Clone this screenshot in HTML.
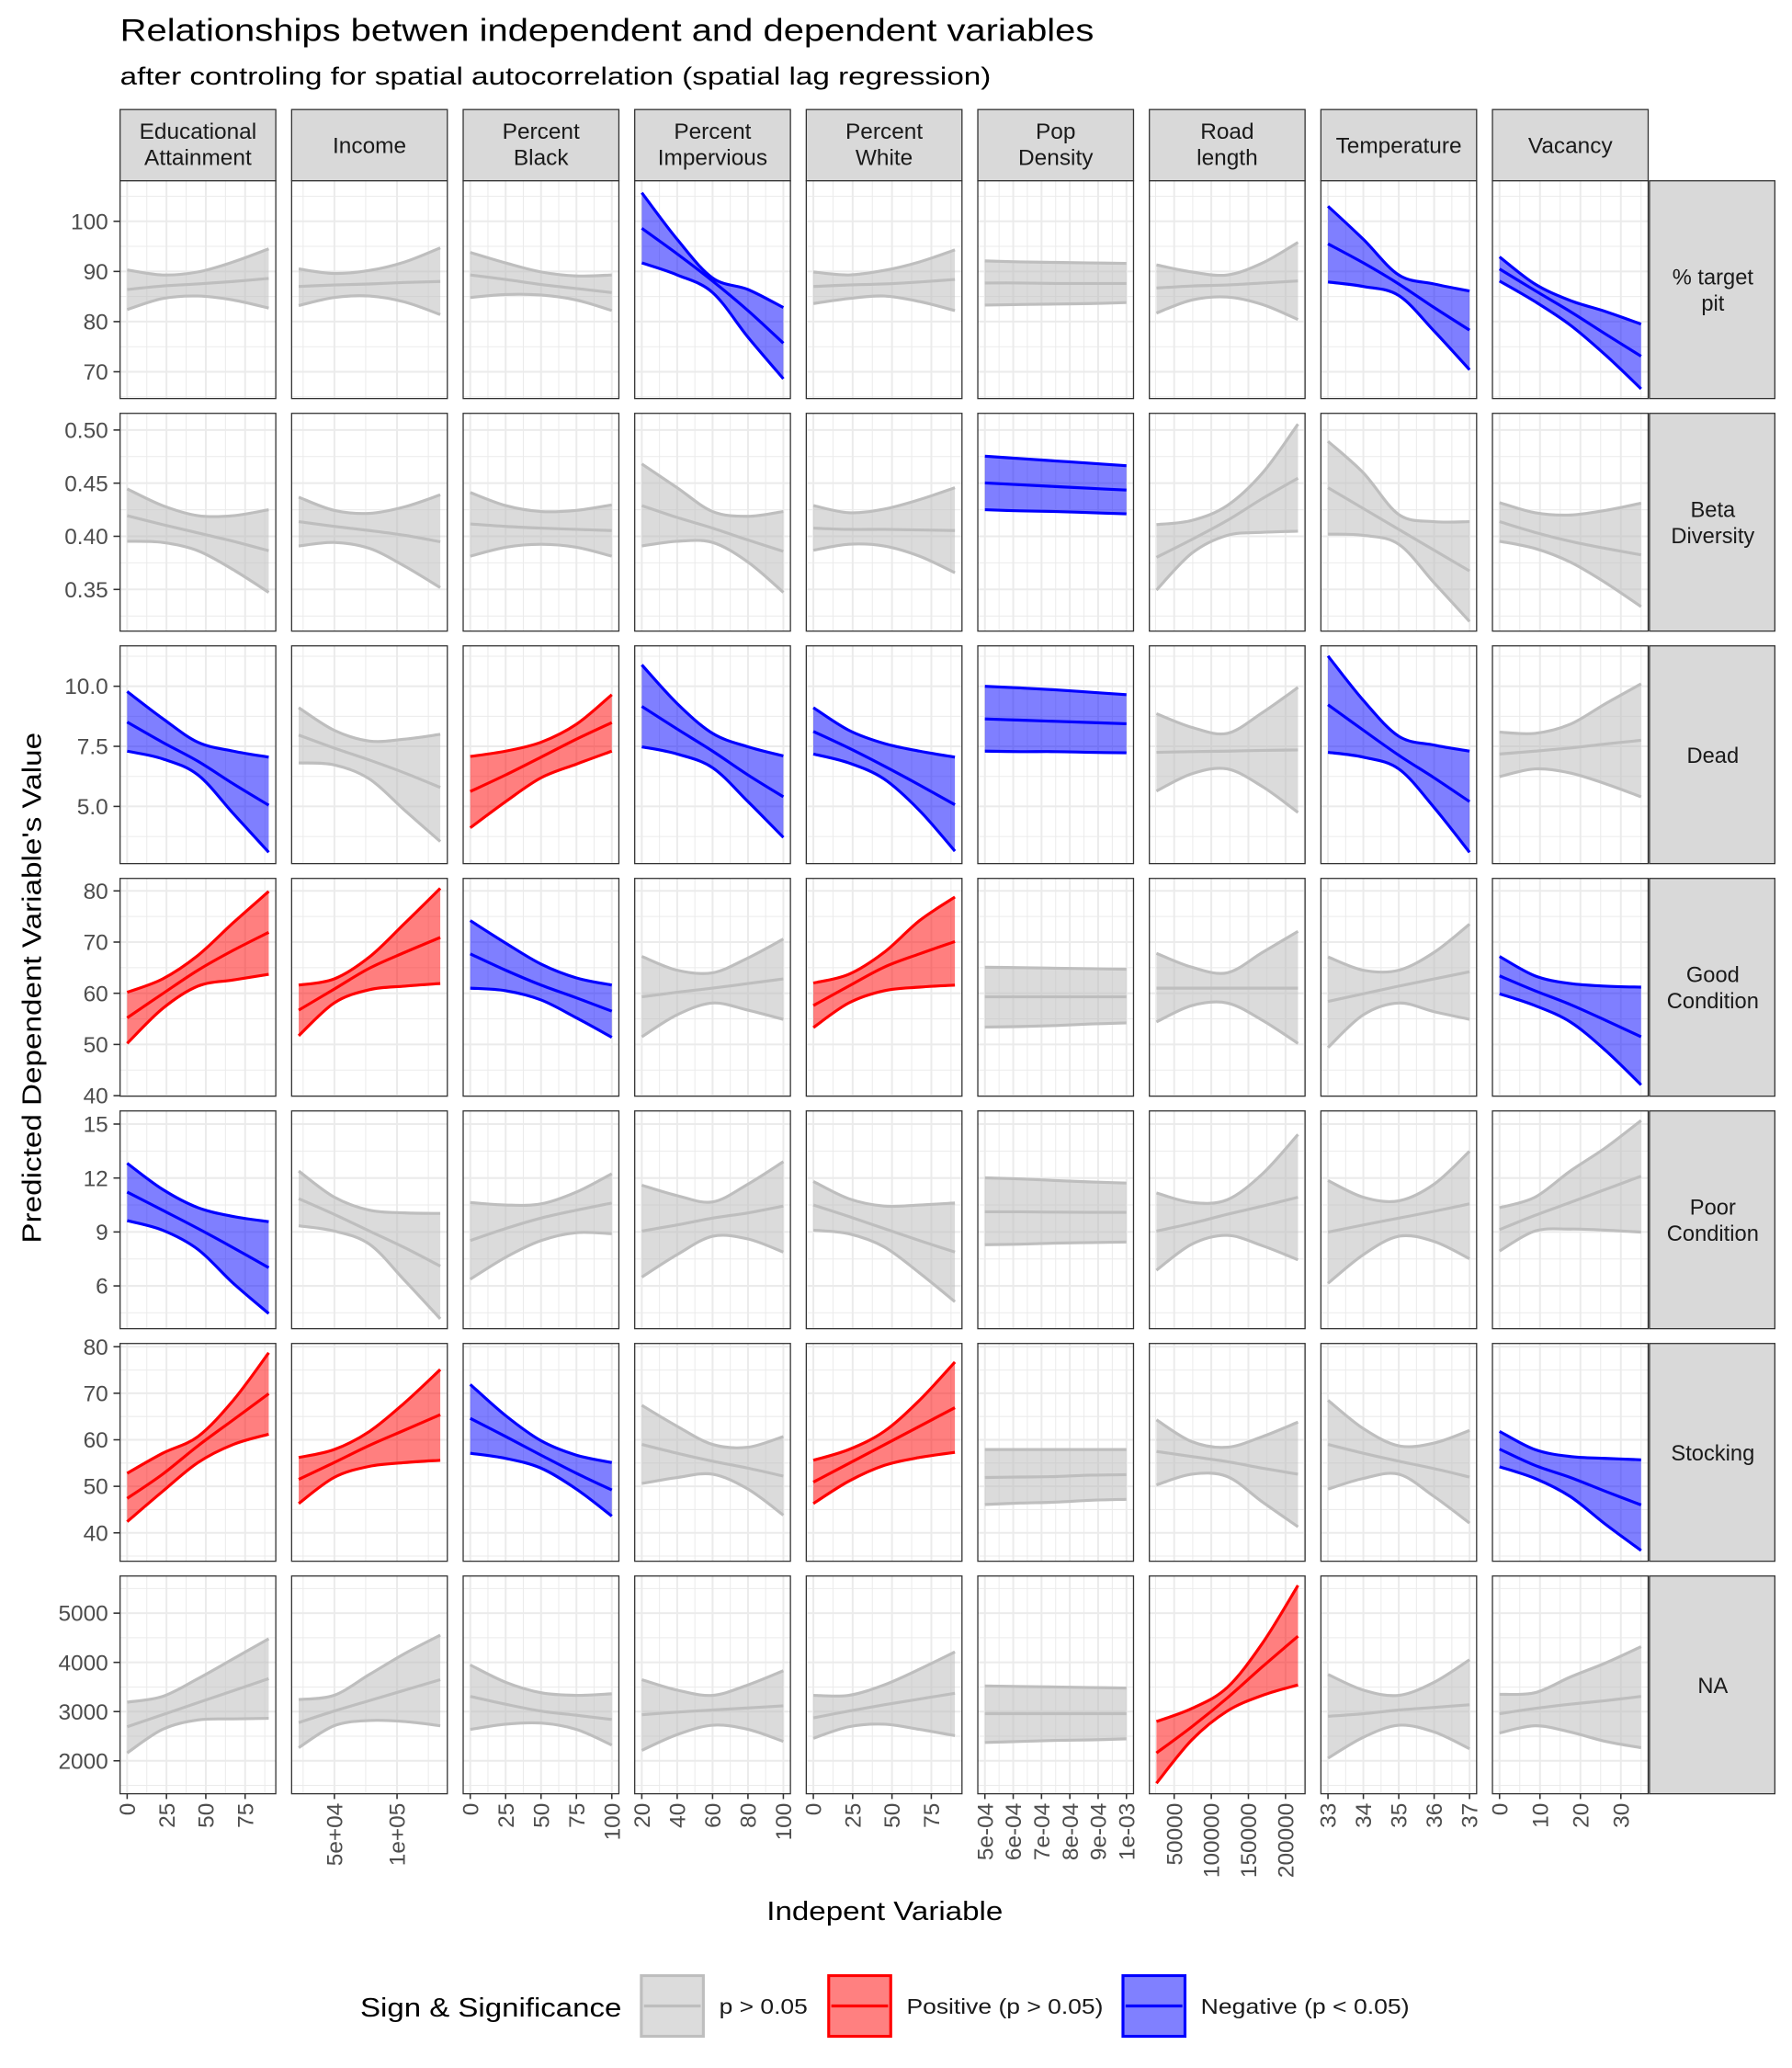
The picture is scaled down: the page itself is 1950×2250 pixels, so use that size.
<!DOCTYPE html>
<html><head><meta charset="utf-8"><title>Relationships chart</title>
<style>
html,body{margin:0;padding:0;background:#fff;}
svg{display:block;font-family:"Liberation Sans",Arial,sans-serif;}
</style></head>
<body>
<svg id="chart" width="1950" height="2250" viewBox="0 0 1358 1567" preserveAspectRatio="none" xmlns="http://www.w3.org/2000/svg">
<rect x="0" y="0" width="1358" height="1567" fill="#fff"/>
<text x="91" y="31" font-size="24" textLength="738" lengthAdjust="spacingAndGlyphs" fill="#000">Relationships betwen independent and dependent variables</text>
<text x="91" y="64" font-size="19" textLength="660" lengthAdjust="spacingAndGlyphs" fill="#000">after controling for spatial autocorrelation (spatial lag regression)</text>
<text x="581" y="1455" font-size="20" textLength="179" lengthAdjust="spacingAndGlyphs" fill="#000">Indepent Variable</text>
<text transform="translate(31,942) rotate(-90)" font-size="20" textLength="387" lengthAdjust="spacingAndGlyphs" fill="#000">Predicted Dependent Variable's Value</text>
<g id="legend">
<text x="273" y="1528" font-size="20" textLength="198" lengthAdjust="spacingAndGlyphs" fill="#000">Sign &amp; Significance</text>
<g>
<rect x="486" y="1497" width="47" height="46" fill="#dcdcdc" stroke="#bebebe" stroke-width="2.2"/>
<line x1="488" y1="1520" x2="531" y2="1520" stroke="#bebebe" stroke-width="2.2"/>
<text x="545" y="1526" font-size="16" textLength="67" lengthAdjust="spacingAndGlyphs" fill="#1a1a1a">p &gt; 0.05</text></g>
<g>
<rect x="628" y="1497" width="47" height="46" fill="#ff8080" stroke="#ff0000" stroke-width="2.2"/>
<line x1="630" y1="1520" x2="673" y2="1520" stroke="#ff0000" stroke-width="2.2"/>
<text x="687" y="1526" font-size="16" textLength="149" lengthAdjust="spacingAndGlyphs" fill="#1a1a1a">Positive (p &gt; 0.05)</text></g>
<g>
<rect x="851" y="1497" width="47" height="46" fill="#8080ff" stroke="#0000ff" stroke-width="2.2"/>
<line x1="853" y1="1520" x2="896" y2="1520" stroke="#0000ff" stroke-width="2.2"/>
<text x="910" y="1526" font-size="16" textLength="158" lengthAdjust="spacingAndGlyphs" fill="#1a1a1a">Negative (p &lt; 0.05)</text></g>
</g>
</svg>
<script>
const colNames = [["Educational","Attainment"],["Income"],["Percent","Black"],["Percent","Impervious"],["Percent","White"],["Pop","Density"],["Road","length"],["Temperature"],["Vacancy"]];
const rowNames = [["% target","pit"],["Beta","Diversity"],["Dead"],["Good","Condition"],["Poor","Condition"],["Stocking"],["NA"]];
const xSamples = [
 [0,22.5,45,67.5,90],
 [21500,49750,78000,106250,134500],
 [0,25,50,75,100],
 [20,40,60,80,100],
 [0,22.5,45,67.5,90],
 [5e-4,6.25e-4,7.5e-4,8.75e-4,1e-3],
 [26100,73775,121450,169125,216800],
 [33,34,35,36,37],
 [0,8.75,17.5,26.25,35]
];
const xTicks = [[0,25,50,75],[50000,100000],[0,25,50,75,100],[20,40,60,80,100],[0,25,50,75],[5e-4,6e-4,7e-4,8e-4,9e-4,1e-3],[50000,100000,150000,200000],[33,34,35,36,37],[0,10,20,30]];
const xTickLabels = [["0","25","50","75"],["5e+04","1e+05"],["0","25","50","75","100"],["20","40","60","80","100"],["0","25","50","75"],["5e-04","6e-04","7e-04","8e-04","9e-04","1e-03"],["50000","100000","150000","200000"],["33","34","35","36","37"],["0","10","20","30"]];
const yLimits = [[64.66,108.07],[0.3108,0.5157],[2.62,11.68],[39.9,82.44],[3.62,15.73],[33.9,80.7],[1330,5755]];
const yTicks = [[70,80,90,100],[0.35,0.40,0.45,0.50],[5,7.5,10],[40,50,60,70,80],[6,9,12,15],[40,50,60,70,80],[2000,3000,4000,5000]];
const yTickLabels = [["70","80","90","100"],["0.35","0.40","0.45","0.50"],["5.0","7.5","10.0"],["40","50","60","70","80"],["6","9","12","15"],["40","50","60","70","80"],["2000","3000","4000","5000"]];
const signif = [
 ["g","g","g","b","g","g","g","b","b"],
 ["g","g","g","g","g","b","g","g","g"],
 ["b","g","r","b","b","b","g","b","g"],
 ["r","r","b","g","r","g","g","g","b"],
 ["b","g","g","g","g","g","g","g","g"],
 ["r","r","b","g","r","g","g","g","b"],
 ["g","g","g","g","g","g","r","g","g"]
];
const upper = [
 [[90.3,89.3,89.9,91.9,94.5],[90.5,89.6,90.2,91.9,94.7],[93.8,91.7,89.9,89.1,89.3],[105.7,96.4,88.7,86.4,82.8],[89.9,89.3,90.2,91.9,94.3],[92.1,91.9,91.8,91.7,91.6],[91.3,89.9,89.3,91.7,95.8],[103.0,96.4,89.3,87.5,86.1],[92.9,87.5,84.2,82.0,79.5]],
 [[0.4446,0.4289,0.4194,0.4194,0.4250],[0.4368,0.4244,0.4216,0.4278,0.4390],[0.4412,0.4289,0.4233,0.4244,0.4295],[0.4681,0.4457,0.4233,0.4188,0.4233],[0.4289,0.4222,0.4256,0.4345,0.4457],[0.4754,0.4731,0.4709,0.4687,0.4664],[0.4110,0.4149,0.4289,0.4597,0.5056],[0.4894,0.4597,0.4205,0.4138,0.4138],[0.4317,0.4222,0.4200,0.4244,0.4312]],
 [[9.78,8.66,7.67,7.30,7.05],[9.11,8.17,7.72,7.80,8.00],[7.08,7.30,7.67,8.42,9.65],[10.89,9.28,8.04,7.48,7.10],[9.11,8.17,7.62,7.30,7.05],[10.0,9.93,9.85,9.75,9.65],[8.86,8.29,8.04,8.91,9.95],[11.26,9.41,7.92,7.55,7.30],[8.09,8.04,8.42,9.28,10.10]],
 [[60.2,62.8,67.4,73.8,79.9],[61.6,62.8,67.1,73.7,80.5],[74.2,69.8,65.7,63.0,61.6],[67.2,64.5,64.0,66.9,70.6],[62.0,63.7,68.0,74.2,78.8],[65.1,65.0,64.9,64.8,64.7],[67.8,65.1,64.0,68.0,72.1],[67.1,64.5,64.5,68.0,73.5],[67.2,63.4,61.9,61.4,61.2]],
 [[12.82,11.37,10.35,9.86,9.57],[12.39,10.94,10.21,10.06,10.03],[10.64,10.50,10.56,11.22,12.24],[11.60,11.02,10.67,11.66,12.91],[11.81,10.85,10.44,10.50,10.61],[12.01,11.95,11.86,11.78,11.72],[11.17,10.64,10.79,12.24,14.42],[11.86,10.93,10.73,11.66,13.49],[10.35,10.93,12.39,13.69,15.20]],
 [[52.8,57.1,60.7,68.5,78.7],[56.2,57.9,61.8,68.0,75.1],[71.9,65.2,59.8,56.7,55.1],[67.4,62.9,59.0,58.4,60.7],[55.6,57.9,61.8,68.5,76.7],[57.9,57.9,57.9,57.9,57.9],[64.3,59.6,58.4,60.7,63.8],[68.5,62.4,58.7,59.3,62.0],[61.8,57.9,56.4,56.0,55.7]],
 [[3191,3308,3670,4074,4479],[3244,3330,3755,4181,4553],[3947,3596,3383,3330,3361],[3649,3436,3330,3542,3830],[3330,3330,3542,3862,4213],[3521,3510,3500,3489,3478],[2798,3063,3489,4394,5564],[3755,3436,3330,3596,4053],[3351,3383,3702,3989,4319]]
];
const mid = [
 [[86.4,87.1,87.5,88.0,88.6],[87.0,87.3,87.5,87.8,88.0],[89.3,88.4,87.4,86.6,85.8],[98.6,93.5,88.1,82.2,75.7],[87.0,87.3,87.5,87.9,88.4],[87.7,87.7,87.6,87.6,87.6],[86.7,87.1,87.3,87.7,88.1],[95.5,91.7,87.5,82.8,78.3],[90.5,86.2,82.0,77.5,73.1]],
 [[0.4194,0.4110,0.4032,0.3953,0.3864],[0.4138,0.4093,0.4054,0.4009,0.3948],[0.4116,0.4093,0.4077,0.4065,0.4054],[0.4289,0.4177,0.4077,0.3965,0.3858],[0.4077,0.4065,0.4065,0.4060,0.4054],[0.4502,0.4485,0.4468,0.4451,0.4435],[0.3802,0.3970,0.4149,0.4356,0.4547],[0.4457,0.4261,0.4065,0.3869,0.3674],[0.4138,0.4037,0.3953,0.3886,0.3825]],
 [[8.51,7.67,6.88,5.94,5.05],[7.97,7.43,6.93,6.39,5.79],[5.62,6.31,7.05,7.80,8.49],[9.16,8.22,7.30,6.31,5.40],[8.12,7.43,6.68,5.89,5.07],[8.64,8.59,8.54,8.49,8.44],[7.25,7.28,7.30,7.33,7.35],[9.23,8.17,7.13,6.19,5.20],[7.18,7.30,7.43,7.60,7.75]],
 [[55.2,59.9,64.5,68.4,71.9],[56.7,60.8,64.9,68.0,70.9],[67.7,64.5,61.6,59.1,56.5],[59.3,60.2,61.0,61.9,62.8],[57.6,61.4,65.1,67.7,70.1],[59.3,59.3,59.3,59.3,59.3],[61.0,61.0,61.0,61.0,61.0],[58.4,59.9,61.4,62.8,64.2],[63.4,60.5,57.8,54.7,51.5]],
 [[11.22,10.21,9.19,8.12,7.01],[10.85,9.98,9.05,8.12,7.10],[8.52,9.19,9.77,10.21,10.61],[9.05,9.39,9.77,10.06,10.44],[10.50,9.86,9.19,8.52,7.88],[10.12,10.12,10.10,10.09,10.09],[9.05,9.48,9.98,10.44,10.93],[8.99,9.39,9.77,10.15,10.56],[9.13,9.92,10.64,11.37,12.10]],
 [[47.4,52.6,58.7,64.3,69.9],[51.5,55.1,58.8,62.1,65.4],[64.6,60.7,56.7,52.8,49.2],[59.0,57.1,55.4,53.9,52.2],[50.9,54.9,58.9,62.9,66.9],[51.9,52.0,52.1,52.4,52.5],[57.5,56.4,55.3,53.9,52.6],[59.0,57.1,55.4,53.8,52.0],[58.0,54.5,51.9,48.9,46.0]],
 [[2691,2936,3181,3425,3670],[2776,3010,3223,3436,3649],[3308,3149,3010,2925,2840],[2936,2989,3032,3074,3117],[2872,3010,3138,3255,3372],[2957,2957,2957,2957,2957],[2159,2691,3276,3915,4532],[2904,2957,3032,3085,3138],[2957,3063,3149,3223,3308]]
];
const lower = [
 [[82.4,84.6,85.1,84.3,82.7],[83.2,84.8,85.1,83.9,81.4],[84.8,85.4,85.3,84.3,82.2],[91.7,89.3,85.8,76.9,68.6],[83.6,84.6,85.1,84.0,82.2],[83.3,83.4,83.5,83.6,83.8],[81.7,84.3,84.9,83.4,80.4],[87.9,87.0,85.2,78.1,70.4],[88.1,84.0,79.3,73.3,66.6]],
 [[0.3953,0.3942,0.3864,0.3685,0.3472],[0.3909,0.3942,0.3886,0.3718,0.3517],[0.3813,0.3897,0.3925,0.3897,0.3813],[0.3909,0.3953,0.3942,0.3757,0.3472],[0.3869,0.3925,0.3909,0.3813,0.3657],[0.4250,0.4239,0.4233,0.4222,0.4211],[0.3494,0.3841,0.4009,0.4037,0.4048],[0.4020,0.4009,0.3925,0.3562,0.3198],[0.3953,0.3886,0.3757,0.3562,0.3338]],
 [[7.30,6.98,6.31,4.70,3.09],[6.81,6.73,6.14,4.83,3.54],[4.11,5.20,6.19,6.76,7.30],[7.48,7.18,6.61,5.20,3.71],[7.18,6.81,6.14,4.83,3.14],[7.30,7.28,7.28,7.25,7.23],[5.64,6.36,6.56,5.82,4.75],[7.25,7.05,6.56,4.95,3.09],[6.24,6.56,6.39,5.94,5.40]],
 [[50.2,57.0,61.4,62.6,63.7],[51.7,58.1,60.7,61.4,61.9],[61.0,60.5,58.7,55.2,51.4],[51.5,55.8,58.1,56.7,54.9],[53.3,58.1,60.5,61.2,61.6],[53.4,53.5,53.7,54.0,54.2],[54.4,57.6,58.1,54.7,50.2],[49.4,55.8,58.1,56.4,54.9],[59.9,57.6,54.4,48.8,42.1]],
 [[9.63,9.10,8.03,6.14,4.46],[9.34,9.05,8.32,6.29,4.17],[6.37,7.59,8.52,8.96,8.90],[6.49,7.74,8.76,8.61,7.88],[9.10,8.90,8.17,6.72,5.12],[8.29,8.32,8.38,8.41,8.44],[6.87,8.32,8.81,8.23,7.45],[6.14,7.74,8.76,8.47,7.51],[7.94,9.05,9.16,9.10,8.99]],
 [[42.4,48.9,55.1,59.0,61.2],[46.3,51.9,54.3,55.1,55.6],[57.1,56.0,53.9,49.4,43.6],[50.6,51.9,52.6,49.4,43.8],[46.3,51.1,54.5,56.2,57.3],[46.1,46.4,46.6,47.0,47.2],[50.3,52.6,52.1,46.6,41.3],[49.4,51.7,52.6,47.8,42.1],[54.2,51.7,47.8,41.8,36.2]],
 [[2159,2638,2830,2851,2862],[2266,2712,2819,2797,2712],[2638,2744,2766,2638,2319],[2212,2532,2723,2638,2393],[2457,2691,2744,2638,2510],[2372,2393,2414,2425,2446],[1542,2425,3010,3330,3542],[2053,2478,2723,2585,2244],[2564,2712,2585,2393,2266]]
];

const NS = "http://www.w3.org/2000/svg";
const svg = document.getElementById("chart");
const PX0 = 91, PW = 118, PSTEP = 130, PY0 = 137, PH = 165, RSTEP = 176.2;
const COLORS = {g:{fill:"#bebebe",line:"#bebebe",op:0.55},r:{fill:"#ff0000",line:"#ff0000",op:0.5},b:{fill:"#0000ff",line:"#0000ff",op:0.5}};
function mk(tag, attrs, parent){const e=document.createElementNS(NS,tag);for(const k in attrs)e.setAttribute(k,attrs[k]);(parent||svg).appendChild(e);return e;}
function xScale(c,v){const xs=xSamples[c];const lo=xs[0],hi=xs[xs.length-1];const a=lo-0.05*(hi-lo);return PX0+c*PSTEP+PW*(v-a)/(1.1*(hi-lo));}
function yScale(r,v){const [b,t]=yLimits[r];return PY0+r*RSTEP+PH*(t-v)/(t-b);}
function smooth(pts){let d="M"+pts[0][0].toFixed(2)+","+pts[0][1].toFixed(2);for(let i=0;i<pts.length-1;i++){const p0=pts[Math.max(0,i-1)],p1=pts[i],p2=pts[i+1],p3=pts[Math.min(pts.length-1,i+2)];const c1=[p1[0]+(p2[0]-p0[0])/6,p1[1]+(p2[1]-p0[1])/6];const c2=[p2[0]-(p3[0]-p1[0])/6,p2[1]-(p3[1]-p1[1])/6];d+=" C"+c1[0].toFixed(2)+","+c1[1].toFixed(2)+" "+c2[0].toFixed(2)+","+c2[1].toFixed(2)+" "+p2[0].toFixed(2)+","+p2[1].toFixed(2);}return d;}
function minors(ticks){const out=[];for(let i=0;i<ticks.length-1;i++)out.push((ticks[i]+ticks[i+1])/2);const st=ticks.length>1?ticks[1]-ticks[0]:1;out.push(ticks[0]-st/2);out.push(ticks[ticks.length-1]+st/2);return out;}

for(let c=0;c<9;c++){
  const x=PX0+c*PSTEP;
  const g=mk("g",{});
  
  
  mk("rect",{x:x,y:83,width:PW,height:54,fill:"#d9d9d9",stroke:"#333",'stroke-width':0.9},g);
  const lines=colNames[c];
  lines.forEach((t,i)=>{const tx=mk("text",{x:x+PW/2,y:(lines.length===1?116:105+i*20),'font-size':17,'text-anchor':'middle',fill:'#1a1a1a'},g);tx.textContent=t;});
}
for(let r=0;r<7;r++){
  const y=PY0+r*RSTEP;
  const g=mk("g",{});
  
  
  mk("rect",{x:1250,y:y,width:95,height:PH,fill:"#d9d9d9",stroke:"#333",'stroke-width':0.9},g);
  const lines=rowNames[r];
  lines.forEach((t,i)=>{const tx=mk("text",{x:1298,y:y+PH/2+6+(lines.length===1?0:(i===0?-10:10)),'font-size':16.5,'text-anchor':'middle',fill:'#1a1a1a'},g);tx.textContent=t;});
}
for(let r=0;r<7;r++){
  for(let c=0;c<9;c++){
    const x0=PX0+c*PSTEP, y0=PY0+r*RSTEP;
    const g=mk("g",{});
    
    
    const cid='clip-'+r+'-'+c;
    const cp=mk("clipPath",{id:cid},g);mk("rect",{x:x0,y:y0,width:PW,height:PH},cp);
    mk("rect",{x:x0,y:y0,width:PW,height:PH,fill:"#fff"},g);
    const grid=mk("g",{'clip-path':'url(#'+cid+')'},g);
    minors(xTicks[c]).forEach(v=>{const X=xScale(c,v);mk("line",{x1:X,x2:X,y1:y0,y2:y0+PH,stroke:"#ebebeb",'stroke-width':0.7},grid);});
    minors(yTicks[r]).forEach(v=>{const Y=yScale(r,v);mk("line",{x1:x0,x2:x0+PW,y1:Y,y2:Y,stroke:"#ebebeb",'stroke-width':0.7},grid);});
    xTicks[c].forEach(v=>{const X=xScale(c,v);mk("line",{x1:X,x2:X,y1:y0,y2:y0+PH,stroke:"#ebebeb",'stroke-width':1.4},grid);});
    yTicks[r].forEach(v=>{const Y=yScale(r,v);mk("line",{x1:x0,x2:x0+PW,y1:Y,y2:Y,stroke:"#ebebeb",'stroke-width':1.4},grid);});
    const col=COLORS[signif[r][c]];
    const up=upper[r][c].map((v,i)=>[xScale(c,xSamples[c][i]),yScale(r,v)]);
    const lo=lower[r][c].map((v,i)=>[xScale(c,xSamples[c][i]),yScale(r,v)]);
    const md=mid[r][c].map((v,i)=>[xScale(c,xSamples[c][i]),yScale(r,v)]);
    const upD=smooth(up), loRev=smooth(lo.slice().reverse());
    const band=mk("path",{d:upD+" L"+loRev.slice(1)+" Z",fill:col.fill,'fill-opacity':col.op,stroke:'none'},grid);
    
    
    const ul=mk("path",{d:upD,fill:'none',stroke:col.line,'stroke-width':2.2},grid);
    
    
    const ll=mk("path",{d:smooth(lo),fill:'none',stroke:col.line,'stroke-width':2.2},grid);
    
    
    const ml=mk("path",{d:smooth(md),fill:'none',stroke:col.line,'stroke-width':2.2},grid);
    
    
    mk("rect",{x:x0,y:y0,width:PW,height:PH,fill:'none',stroke:'#333','stroke-width':0.9},g);
  }
}
for(let r=0;r<7;r++){
  const g=mk("g",{});
  
  
  yTicks[r].forEach((v,i)=>{const Y=yScale(r,v);mk("line",{x1:86,x2:91,y1:Y,y2:Y,stroke:'#333','stroke-width':1.1},g);const t=mk("text",{x:82,y:Y+6,'font-size':17,'text-anchor':'end',fill:'#4d4d4d'},g);t.textContent=yTickLabels[r][i];});
}
for(let c=0;c<9;c++){
  const g=mk("g",{});
  
  
  const yb=PY0+6*RSTEP+PH;
  xTicks[c].forEach((v,i)=>{const X=xScale(c,v);mk("line",{x1:X,x2:X,y1:yb,y2:yb+4,stroke:'#333','stroke-width':1.1},g);const t=mk("text",{transform:'translate('+(X+6)+','+(yb+7)+') rotate(-90)','font-size':17,'text-anchor':'end',fill:'#4d4d4d'},g);t.textContent=xTickLabels[c][i];});
}
</script>
</body></html>
